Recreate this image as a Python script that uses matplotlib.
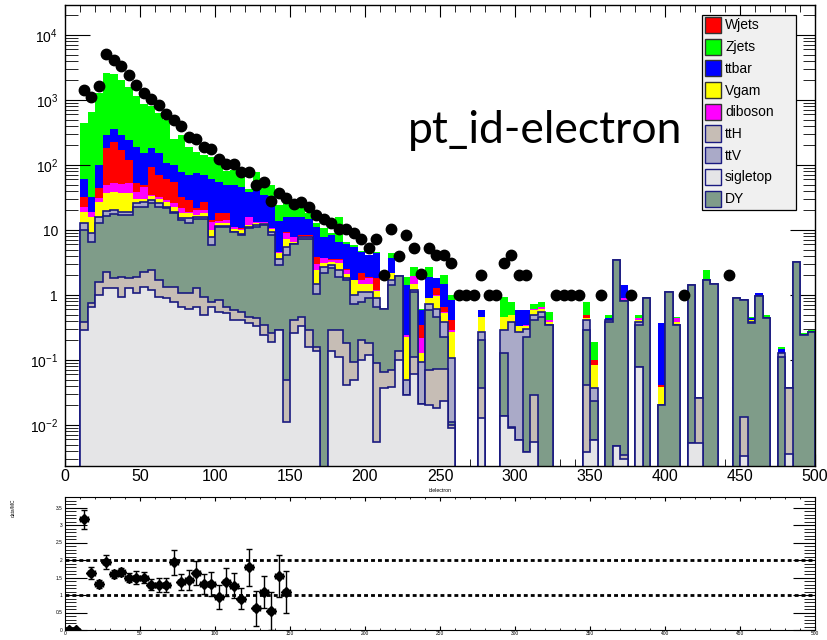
import numpy as np
import matplotlib
matplotlib.use("Agg")
import matplotlib.pyplot as plt
from matplotlib.ticker import MultipleLocator, LogLocator, FuncFormatter, NullFormatter
from matplotlib.patches import Rectangle

plt.rcParams['font.family'] = ['Liberation Sans', 'DejaVu Sans']
plt.rcParams['mathtext.fontset'] = 'custom'
plt.rcParams['mathtext.rm'] = 'Liberation Sans'

# ── binning: 5 GeV bins from 10 to 500 ─────────────────────────────
edges = np.arange(10, 505, 5)

# ── stack levels (cumulative height of each THStack layer, per bin) ──
zjets_top = [
    440, 650, 1300, 2600, 2550, 2000, 1600, 1140, 860, 800,
    635, 500, 252, 285, 190, 156, 145, 134, 125, 80,
    85, 80, 43, 78, 50, 50, 24, 28, 21.5, 21.5,
    18, 13, 10.6, 9, 16, 6.5, 5.8, 4.8, 4.1, 4.6,
    0.6, 4.4, 1.96, 1.9, 2.7, 0.62, 2.67, 1.8, 2.0, 1.0,
    0, 0, 0, 0.59, 0, 0, 0.94, 0.79, 0.59, 0.59,
    0.74, 0.79, 0.55, 0, 0, 0, 0, 0.79, 0.19, 0,
    0.49, 3.45, 1.42, 0, 0.49, 0.94, 0, 0.37, 1.12, 0.46,
    0, 1.42, 0.026, 2.4, 1.5, 0, 0, 0.89, 0.88, 0.46,
    1.06, 0.49, 0, 0.16, 0.037, 3.25, 0.26, 0.29]
ttbar_top = [
    62, 32.5, 100, 290, 355, 290, 240, 191, 151, 180,
    151, 107, 100, 79, 70, 75, 70, 62, 55, 49,
    49, 46, 38, 41, 35, 33, 14, 16, 16, 16,
    15, 11.3, 7.9, 8.4, 6.6, 6.2, 5.5, 4.6, 4.1, 4.4,
    0.6, 3.7, 1.96, 1.42, 1.96, 0.59, 1.92, 1.8, 1.5, 0.84,
    0, 0, 0, 0.59, 0, 0, 0.46, 0.5, 0.59, 0.59,
    0.62, 0.66, 0.41, 0, 0, 0, 0, 0.49, 0.1, 0,
    0.44, 3.45, 1.42, 0, 0.44, 0.89, 0, 0.37, 1.12, 0.44,
    0, 1.42, 0.026, 1.7, 1.5, 0, 0, 0.89, 0.88, 0.44,
    1.06, 0.46, 0, 0.15, 0.037, 3.25, 0.25, 0.28]
wjets_top = [
    32.5, 19.1, 44, 186, 228, 170, 120, 52, 49, 94,
    70, 62, 55, 32.5, 29, 21.6, 27, 14.2, 18, 18,
    11.2, 10.6, 16, 13.4, 13.4, 10.6, 4.6, 9.4, 7.9, 8.3,
    8.3, 3.8, 3.7, 3.6, 3.6, 2.5, 1.7, 2.15, 1.9, 1.8,
    0.6, 2.15, 1.96, 0.24, 1.96, 0.35, 0.89, 1.27, 0.66, 0.41,
    0, 0, 0, 0.46, 0, 0, 0.46, 0.5, 0.33, 0.35,
    0.62, 0.66, 0.41, 0, 0, 0, 0, 0.49, 0.1, 0,
    0.41, 3.45, 0.9, 0, 0.44, 0.89, 0, 0.041, 1.12, 0.44,
    0, 1.42, 0.026, 1.7, 1.5, 0, 0, 0.89, 0.84, 0.42,
    0.96, 0.44, 0, 0.13, 0.037, 3.25, 0.24, 0.27]
diboson_top = [
    22.9, 19.1, 30.7, 49, 52, 51, 52, 39, 46, 34.6,
    32.5, 29, 25.7, 21.5, 19.1, 20, 20, 13.4, 14, 14.5,
    11, 10.5, 16, 13.4, 13.4, 10.6, 4.6, 8.9, 7.7, 8.1,
    8.1, 3.0, 3.7, 3.4, 3.4, 2.4, 1.7, 1.7, 1.8, 1.2,
    0.6, 2.15, 1.96, 0.24, 1.96, 0.22, 0.89, 1.0, 0.55, 0.29,
    0, 0, 0, 0.46, 0, 0, 0.46, 0.5, 0.33, 0.34,
    0.62, 0.66, 0.41, 0, 0, 0, 0, 0.44, 0.084, 0,
    0.41, 3.45, 0.9, 0, 0.44, 0.89, 0, 0.039, 1.12, 0.44,
    0, 1.42, 0.026, 1.7, 1.5, 0, 0, 0.89, 0.84, 0.42,
    0.96, 0.44, 0, 0.13, 0.037, 3.25, 0.24, 0.27]
vgam_top = [
    19.1, 16.0, 27.3, 36.6, 39, 36.6, 37.5, 29.6, 29.6, 33,
    29.6, 27.3, 22.9, 18, 18, 17, 18, 10, 12.7, 12.7,
    10.2, 10, 12, 12.7, 13, 10.2, 4.4, 7.2, 6.6, 7.9,
    7.9, 2.4, 3.1, 3.2, 3.1, 2.1, 1.7, 1.5, 1.5, 1.15,
    0.6, 2.15, 1.96, 0.23, 1.5, 0.13, 0.89, 0.96, 0.53, 0.27,
    0, 0, 0, 0.46, 0, 0, 0.46, 0.49, 0.33, 0.33,
    0.59, 0.6, 0.39, 0, 0, 0, 0, 0.44, 0.084, 0,
    0.41, 3.45, 0.85, 0, 0.42, 0.89, 0, 0.039, 1.12, 0.39,
    0, 1.42, 0.026, 1.7, 1.5, 0, 0, 0.89, 0.84, 0.42,
    0.96, 0.44, 0, 0.13, 0.037, 3.25, 0.24, 0.27]
ttv_top = [
    12.7, 8.9, 16.0, 19.9, 20.3, 19.1, 19.1, 25.7, 27.3, 29,
    25.7, 22.9, 19.1, 15.1, 15.1, 15.6, 16, 7.9, 11.5, 11.5,
    9.4, 8.8, 11.2, 12, 12.4, 9.4, 3.6, 5.5, 6.2, 7.7,
    7.7, 1.5, 2.7, 2.9, 2.4, 1.8, 1.0, 1.12, 1.1, 0.89,
    0.6, 1.7, 1.96, 0.049, 1.2, 0.094, 0.74, 0.62, 0.39, 0.106,
    0, 0, 0, 0.27, 0, 0, 0.29, 0.39, 0.27, 0.30,
    0.49, 0.55, 0.35, 0, 0, 0, 0, 0.41, 0.037, 0,
    0.41, 3.45, 0.8, 0, 0.39, 0.89, 0, 0.02, 1.12, 0.35,
    0, 1.42, 0.026, 1.7, 1.5, 0, 0, 0.89, 0.84, 0.39,
    0.96, 0.44, 0, 0.13, 0.037, 3.25, 0.24, 0.27]
dy_top = [
    10, 6.6, 12.7, 16.4, 17.4, 17, 17, 22.9, 22.9, 25.7,
    22.9, 21.5, 18, 14.2, 12.7, 14.8, 15, 5.9, 11, 11,
    9.2, 8.4, 10.6, 11.2, 12, 8.4, 2.9, 4.1, 6.1, 7.4,
    7.4, 1.03, 2.15, 2.6, 1.9, 1.7, 0.74, 0.79, 0.89, 0.66,
    0.6, 1.42, 1.96, 0.029, 1.13, 0.021, 0.59, 0.46, 0.23, 0.011,
    0, 0, 0, 0.2, 0, 0, 0.127, 0.0094, 0.0059, 0.23,
    0.41, 0.46, 0.35, 0, 0, 0, 0, 0.29, 0.023, 0,
    0.39, 3.45, 0.8, 0, 0.35, 0.89, 0, 0.02, 1.12, 0.35,
    0, 1.42, 0.026, 1.7, 1.5, 0, 0, 0.89, 0.84, 0.37,
    0.96, 0.44, 0, 0.11, 0.037, 3.25, 0.24, 0.27]
tth_top = [
    0.39, 0.76, 1.6, 2.3, 1.8, 1.9, 1.8, 1.9, 2.3, 2.4,
    1.7, 1.34, 1.34, 1.06, 1.06, 1.27, 0.94, 0.79, 0.84, 0.66,
    0.59, 0.55, 0.46, 0.44, 0.35, 0.26, 0.29, 0.049, 0.41, 0.46,
    0.29, 0.16, 0, 0.29, 0.29, 0.18, 0.094, 0.2, 0.18, 0.089,
    0.066, 0.07, 0.14, 0.029, 0.11, 0.021, 0.07, 0.074, 0.074, 0.01,
    0, 0, 0, 0.037, 0, 0, 0.014, 0.009, 0.0059, 0.0039,
    0.029, 0, 0, 0, 0, 0, 0, 0.041, 0.0059, 0,
    0, 0.0047, 0.0035, 0, 0.079, 0, 0, 0, 0, 0,
    0, 0.0052, 0.026, 0, 0, 0, 0, 0, 0.0135, 0,
    0, 0, 0, 0, 0.037, 0, 0, 0]
sigletop_top = [
    0.29, 0.66, 1.0, 1.27, 1.27, 0.94, 1.27, 1.06, 1.34, 1.19,
    0.94, 0.89, 0.79, 0.66, 0.62, 0.66, 0.49, 0.66, 0.55, 0.52,
    0.41, 0.41, 0.37, 0.33, 0.24, 0.19, 0.29, 0.011, 0.26, 0.33,
    0.16, 0.14, 0, 0.14, 0.11, 0.041, 0.049, 0.1, 0.12, 0.0055,
    0.037, 0.039, 0.1, 0.029, 0.06, 0.021, 0.02, 0.018, 0.023, 0.009,
    0, 0, 0, 0.0127, 0, 0, 0.014, 0.009, 0.0059, 0.0039,
    0.0055, 0, 0, 0, 0, 0, 0, 0.0039, 0.0059, 0,
    0, 0.0047, 0.003, 0, 0.079, 0, 0, 0, 0, 0,
    0, 0.0052, 0.0052, 0, 0, 0, 0, 0, 0.0033, 0,
    0, 0, 0, 0, 0.0036, 0, 0, 0]

# ── data ────────────────────────────────────────────────────────────
data_x = [12.5, 17.5, 22.5, 27.5, 32.5, 37.5, 42.5, 47.5, 52.5, 57.5,
          62.5, 67.5, 72.5, 77.5, 82.5, 87.5, 92.5, 97.5, 102.5, 107.5,
          112.5, 117.5, 122.5, 127.5, 132.5, 137.5, 142.5, 147.5, 152.5, 157.5,
          162.5, 167.5, 172.5, 177.5, 182.5, 187.5, 192.5, 197.5, 202.5, 207.5,
          212.5, 217.5, 222.5, 227.5, 232.5, 237.5, 242.5, 247.5, 252.5, 257.5,
          262.5, 267.5, 272.5, 277.5, 282.5, 287.5, 292.5, 297.5, 302.5, 307.5,
          327.5, 332.5, 337.5, 342.5, 357.5, 377.5, 412.5, 442.5]
data_y = [1420, 1120, 1650, 5100, 4150, 3340, 2420, 1700, 1290, 1040,
          825, 620, 490, 400, 270, 255, 190, 175, 123, 104,
          104, 77, 77, 50, 55, 28, 37, 31, 25, 27,
          23, 17, 14.6, 12.9, 10.2, 10.2, 8.9, 7.2, 5.2, 7.2,
          2.0, 10.2, 4.0, 8.3, 5.2, 2.1, 5.2, 4.1, 4.1, 3.1,
          1, 1, 1, 2.0, 1, 1, 3.1, 4.1, 2.0, 2.0,
          1, 1, 1, 1, 1, 1, 1, 2.0]

# ── ratio data/MC ───────────────────────────────────────────────────
ratio_x = [12.5, 17.5, 22.5, 27.5, 32.5, 37.5, 42.5, 47.5, 52.5, 57.5,
           62.5, 67.5, 72.5, 77.5, 82.5, 87.5, 92.5, 97.5, 102.5, 107.5,
           112.5, 117.5, 122.5, 127.5, 132.5, 137.5, 142.5, 147.5]
ratio_y = [3.17, 1.63, 1.31, 1.94, 1.6, 1.65, 1.5, 1.5, 1.5, 1.3,
           1.3, 1.3, 1.94, 1.37, 1.43, 1.63, 1.31, 1.31, 0.95, 1.38,
           1.27, 0.89, 1.79, 0.62, 1.09, 0.55, 1.54, 1.09]
ratio_err = [0.27, 0.18, 0.12, 0.2, 0.12, 0.12, 0.14, 0.18, 0.16, 0.17,
             0.2, 0.2, 0.36, 0.22, 0.28, 0.33, 0.28, 0.35, 0.35, 0.4,
             0.35, 0.3, 0.53, 0.5, 0.45, 0.55, 0.6, 0.6]
ratio_zero_x = [2.5, 7.5]
ratio_zero_y = [0, 0]

# ── figure ──────────────────────────────────────────────────────────
W, H = 827, 640
fig = plt.figure(figsize=(W / 100, H / 100), dpi=100)

def fx(x):
    return x / W

def fy(y):
    return 1 - y / H

ax = fig.add_axes([fx(65), fy(466), fx(815) - fx(65), fy(5) - fy(466)])
rax = fig.add_axes([fx(65), fy(630), fx(815) - fx(65), fy(497) - fy(630)])

NAVY = "#1a1a80"
FLOOR = 1e-5
# drawn like a THStack: the top of the stack first, each layer from the bottom
layers = [
    ("Zjets", zjets_top, "#00ff00", None),
    ("ttbar", ttbar_top, "#0000ff", None),
    ("Wjets", wjets_top, "#ff0000", None),
    ("diboson", diboson_top, "#ff00ff", None),
    ("Vgam", vgam_top, "#ffff00", None),
    ("ttV", ttv_top, "#aaaac8", NAVY),
    ("DY", dy_top, "#7f9c89", NAVY),
    ("ttH", tth_top, "#c6bdb5", NAVY),
    ("sigletop", sigletop_top, "#e5e5e7", NAVY),
]
z = 1
for name, top, fc, ec in layers:
    v = np.array(top, dtype=float)
    v = np.where(v > 0, v, FLOOR)
    ax.stairs(v, edges, baseline=FLOOR, fill=True, color=fc, linewidth=0, zorder=z)
    if ec:
        ax.stairs(v, edges, baseline=FLOOR, fill=False, color=ec, linewidth=1.2, zorder=z + 0.5)
    z += 1

ax.plot(data_x, data_y, "o", color="black", ms=7.5, zorder=20)

ax.set_xlim(0, 500)
ax.set_yscale("log")
ax.set_ylim(0.00234, 29000)
ax.xaxis.set_major_locator(MultipleLocator(50))
ax.xaxis.set_minor_locator(MultipleLocator(10))
ax.yaxis.set_major_locator(LogLocator(base=10, numticks=20))
ax.yaxis.set_minor_locator(LogLocator(base=10, subs=np.arange(2, 10), numticks=40))
ax.yaxis.set_minor_formatter(NullFormatter())

def log_label(v, pos):
    e = int(round(np.log10(v)))
    if e == 0:
        return "1"
    if e == 1:
        return "10"
    return r"$\mathregular{10^{%d}}$" % e

ax.yaxis.set_major_formatter(FuncFormatter(log_label))
ax.tick_params(axis="x", which="major", direction="in", top=True, length=8.5, labelsize=11.5, pad=2)
ax.tick_params(axis="x", which="minor", direction="in", top=True, length=5)
ax.tick_params(axis="y", which="major", direction="in", right=True, length=18, labelsize=10, pad=5)
ax.tick_params(axis="y", which="minor", direction="in", right=True, length=9)
for s in ax.spines.values():
    s.set_linewidth(1.0)
    s.set_zorder(30)

# ── ratio panel ─────────────────────────────────────────────────────
rax.errorbar(ratio_x, ratio_y, yerr=ratio_err, xerr=2.5, fmt="D", color="black",
             ms=5, elinewidth=1, capsize=2, capthick=1)
rax.plot(ratio_zero_x, ratio_zero_y, "D", color="black", ms=5)
for lvl in (1, 2):
    rax.axhline(lvl, color="black", lw=2, ls=(0, (1.4, 1.1)))
rax.set_xlim(0, 500)
rax.set_ylim(0, 3.8)
rax.xaxis.set_major_locator(MultipleLocator(50))
rax.xaxis.set_minor_locator(MultipleLocator(10))
rax.yaxis.set_major_locator(MultipleLocator(0.5))
rax.yaxis.set_minor_locator(MultipleLocator(0.1))
rax.yaxis.set_major_formatter(FuncFormatter(lambda v, p: "%g" % v))
rax.tick_params(axis="x", which="major", direction="in", top=True, length=3, labelsize=3.5, pad=1)
rax.tick_params(axis="x", which="minor", direction="in", top=True, length=1.5)
rax.tick_params(axis="y", which="major", direction="in", right=True, length=16, labelsize=3.5, pad=2)
rax.tick_params(axis="y", which="minor", direction="in", right=True, length=8)

# ── texts ───────────────────────────────────────────────────────────
fig.text(fx(408), fy(143), "pt_id-electron", fontsize=32, family=["Lato", "DejaVu Sans"],
         ha="left", va="baseline")
fig.text(fx(440), fy(490), "idelectron", fontsize=3.8, ha="center", va="center")
fig.text(fx(13), fy(508), "data/MC", fontsize=3.5, rotation=90, ha="center", va="center")

# ── legend box (ROOT TLegend look) ──────────────────────────────────
leg_names = ["Wjets", "Zjets", "ttbar", "Vgam", "diboson", "ttH", "ttV", "sigletop", "DY"]
leg_colors = {n: c for n, _, c, _ in layers}
leg_edges = {n: (e if e else "#333333") for n, _, _, e in layers}
fig.add_artist(Rectangle((fx(702), fy(210)), fx(796) - fx(702), fy(15) - fy(210),
                         transform=fig.transFigure, facecolor="#f0f0f0",
                         edgecolor="black", lw=0.9, zorder=40))
for i, n in enumerate(leg_names):
    top = 17 + 21.7 * i
    fig.add_artist(Rectangle((fx(705), fy(top + 16)), fx(721) - fx(705), fy(top) - fy(top + 16),
                             transform=fig.transFigure, facecolor=leg_colors[n],
                             edgecolor=leg_edges[n], lw=1.0, zorder=41))
    fig.text(fx(725), fy(top + 8.5), n, fontsize=10, ha="left", va="center", zorder=42)

fig.savefig("out.png", dpi=100)
